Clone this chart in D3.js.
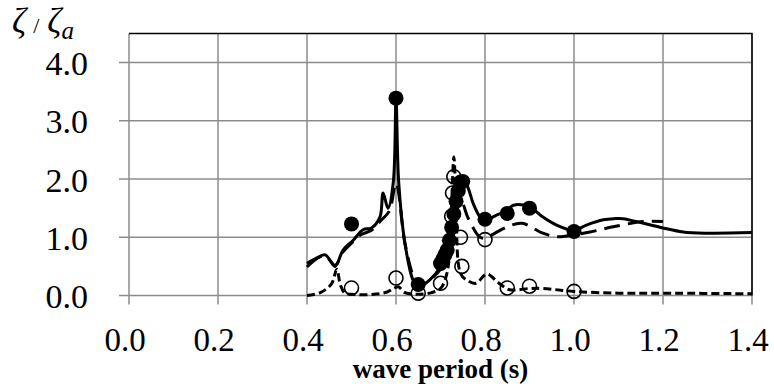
<!DOCTYPE html>
<html>
<head>
<meta charset="utf-8">
<script src="https://cdn.jsdelivr.net/npm/d3@7"></script>
<style>
  body { margin: 0; background: #fff; }
  svg { display: block; }
  text { font-family: "Liberation Serif", "DejaVu Serif", serif; fill: #000; }
</style>
</head>
<body>
<svg id="chart" width="774" height="387"></svg>
<script>
// solid line
const solidT = [0.40, 0.44, 0.463, 0.481, 0.504, 0.526, 0.545, 0.564, 0.571, 0.582, 0.594, 0.6, 0.606, 0.62, 0.638, 0.65, 0.676, 0.70, 0.72, 0.737, 0.751, 0.762, 0.773, 0.789, 0.80, 0.826, 0.85, 0.864, 0.90, 0.93, 0.961, 1.0, 1.028, 1.066, 1.09, 1.11, 1.156, 1.20, 1.245, 1.30, 1.40];
const solidV = [0.49, 0.70, 0.50, 0.78, 0.95, 1.13, 1.16, 1.35, 1.76, 1.50, 1.95, 3.38, 1.95, 0.90, 0.27, 0.15, 0.27, 0.50, 0.95, 1.59, 2.00, 1.85, 1.59, 1.35, 1.30, 1.38, 1.47, 1.55, 1.52, 1.35, 1.21, 1.12, 1.21, 1.30, 1.32, 1.32, 1.24, 1.16, 1.09, 1.07, 1.08];

// long dashed line
const longT = [0.40, 0.44, 0.463, 0.48, 0.50, 0.52, 0.545, 0.565, 0.585, 0.60, 0.62, 0.64, 0.65, 0.70, 0.72, 0.735, 0.745, 0.752, 0.762, 0.789, 0.80, 0.85, 0.883, 0.93, 0.961, 1.0, 1.036, 1.088, 1.156, 1.20];
const longV = [0.55, 0.68, 0.52, 0.74, 0.90, 1.04, 1.12, 1.28, 1.45, 1.93, 0.90, 0.30, 0.17, 0.45, 0.90, 1.40, 1.70, 1.55, 1.33, 1.00, 0.99, 1.18, 1.24, 1.07, 1.01, 1.04, 1.09, 1.18, 1.27, 1.27];

// short dashed line
const shortT = [0.40, 0.43, 0.455, 0.467, 0.475, 0.485, 0.50, 0.55, 0.58, 0.595, 0.605, 0.62, 0.65, 0.68, 0.70, 0.715, 0.725, 0.73, 0.735, 0.745, 0.76, 0.78, 0.804, 0.83, 0.855, 0.90, 0.93, 1.0, 1.1, 1.2, 1.4];
const shortV = [0.00, 0.05, 0.20, 0.45, 0.18, 0.04, 0.02, 0.02, 0.06, 0.12, 0.15, 0.05, 0.02, 0.05, 0.12, 0.40, 1.60, 2.38, 1.60, 0.38, 0.26, 0.21, 0.37, 0.22, 0.10, 0.12, 0.12, 0.07, 0.04, 0.04, 0.03];

// filled circles
const filledT = [0.50, 0.60, 0.65, 0.70, 0.705, 0.71, 0.715, 0.72, 0.725, 0.73, 0.735, 0.74, 0.745, 0.75, 0.80, 0.85, 0.90, 1.00];
const filledV = [1.23, 3.39, 0.19, 0.55, 0.62, 0.70, 0.78, 0.95, 1.17, 1.40, 1.62, 1.80, 1.95, 1.96, 1.31, 1.41, 1.50, 1.10];

// open circles
const openT = [0.50, 0.60, 0.65, 0.70, 0.725, 0.727, 0.73, 0.745, 0.748, 0.80, 0.85, 0.90, 1.00];
const openV = [0.13, 0.30, 0.04, 0.21, 1.36, 1.76, 2.04, 1.00, 0.50, 0.96, 0.13, 0.16, 0.07];

const xTicks = [0.0, 0.2, 0.4, 0.6, 0.8, 1.0, 1.2, 1.4];
const yTicks = [0, 1, 2, 3, 4];

const svg = d3.select("#chart");
const pLeft = 129, pRight = 752, pTop = 33.5, pBottom = 295.5;

const x = d3.scaleLinear().domain([0, 1.4]).range([pLeft, pRight]);
const y = d3.scaleLinear().domain([0, 4.5]).range([pBottom, pTop]);

const grid = svg.append("g");
// horizontal grid + left tick marks
grid.selectAll(".hg").data(yTicks).enter().append("line")
    .attr("x1", pLeft - 10).attr("x2", pRight)
    .attr("y1", d => y(d)).attr("y2", d => y(d))
    .attr("stroke", "#8c8c8c").attr("stroke-width", 1.5);
// vertical grid + bottom tick marks
grid.selectAll(".vg").data(xTicks).enter().append("line")
    .attr("x1", d => x(d)).attr("x2", d => x(d))
    .attr("y1", pTop).attr("y2", pBottom + 9)
    .attr("stroke", "#8c8c8c").attr("stroke-width", 1.5);
// black top / right border
grid.append("path")
    .attr("d", `M${pLeft},${pTop}H${pRight}V${pBottom}`)
    .attr("fill", "none").attr("stroke", "#000").attr("stroke-width", 1.5);

// tick labels
svg.selectAll(".yl").data(yTicks).enter().append("text")
    .attr("x", 88).attr("y", d => y(d) + 12.5)
    .attr("text-anchor", "end").attr("font-size", 34)
    .text(d => d3.format(".1f")(d));
svg.selectAll(".xl").data(xTicks).enter().append("text")
    .attr("x", d => x(d) - 4).attr("y", 351)
    .attr("text-anchor", "middle").attr("font-size", 33)
    .text(d => d3.format(".1f")(d));

// axis titles
svg.append("text")
    .attr("x", (pLeft + pRight) / 2).attr("y", 378)
    .attr("text-anchor", "middle").attr("font-size", 27).attr("font-weight", "bold")
    .text("wave period (s)");

const yt = svg.append("text").attr("x", 12).attr("y", 33).attr("font-size", 35).attr("font-style", "italic");
yt.append("tspan").text("ζ");
yt.append("tspan").attr("dx", 7).attr("font-style", "normal").attr("font-size", 22).text("/");
yt.append("tspan").attr("dx", 8).text("ζ");
yt.append("tspan").attr("dy", 6).attr("font-size", 25).text("a");

// lines
const line = d3.line()
    .x(d => x(d[0])).y(d => y(d[1]))
    .curve(d3.curveCatmullRom.alpha(0.5));

function drawLine(ts, vs, dash) {
    svg.append("path")
        .datum(d3.zip(ts, vs))
        .attr("d", line)
        .attr("fill", "none")
        .attr("stroke", "#000")
        .attr("stroke-width", 3)
        .attr("stroke-dasharray", dash);
}
drawLine(shortT, shortV, "8,4");
drawLine(longT, longV, "16,8");
drawLine(solidT, solidV, null);

// markers
svg.selectAll(".op").data(d3.zip(openT, openV)).enter().append("circle")
    .attr("cx", d => x(d[0])).attr("cy", d => y(d[1])).attr("r", 7)
    .attr("fill", "none").attr("stroke", "#000").attr("stroke-width", 1.6);
svg.selectAll(".fp").data(d3.zip(filledT, filledV)).enter().append("circle")
    .attr("cx", d => x(d[0])).attr("cy", d => y(d[1])).attr("r", 7.5)
    .attr("fill", "#000");
</script>
</body>
</html>
